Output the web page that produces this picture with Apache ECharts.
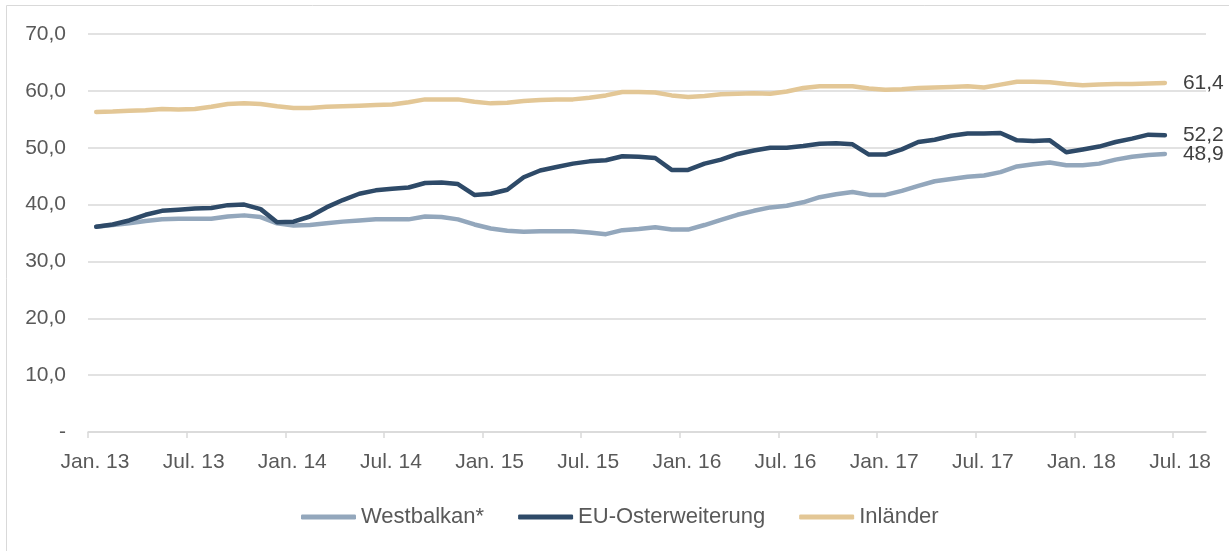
<!DOCTYPE html>
<html>
<head>
<meta charset="utf-8">
<script src="https://cdn.jsdelivr.net/npm/echarts@6/dist/echarts.min.js"></script>
<style>
    html, body { margin: 0; padding: 0; background: #fff; }
    #chart { width: 1229px; height: 551px; }
</style>
</head>
<body>
<div id="chart"></div>
<script>
// Monatswerte Jan. 13 bis Jun. 18
const seriesNames = ["Westbalkan*", "EU-Osterweiterung", "Inländer"];

const westbalkan = [
    36.1, 36.4, 36.7, 37.1, 37.4, 37.5, 37.5, 37.5, 37.9, 38.1, 37.8, 36.7,
    36.3, 36.4, 36.7, 37.0, 37.2, 37.4, 37.4, 37.4, 37.9, 37.8, 37.4, 36.5,
    35.8, 35.4, 35.2, 35.3, 35.3, 35.3, 35.1, 34.8, 35.5, 35.7, 36.0, 35.6,
    35.6, 36.4, 37.3, 38.2, 38.9, 39.5, 39.8, 40.4, 41.3, 41.8, 42.2, 41.7,
    41.7, 42.4, 43.3, 44.1, 44.5, 44.9, 45.1, 45.7, 46.7, 47.1, 47.4, 46.9,
    46.9, 47.2, 47.9, 48.4, 48.7, 48.9
];

const euOst = [
    36.1, 36.5, 37.2, 38.2, 38.9, 39.1, 39.3, 39.4, 39.9, 40.0, 39.2, 36.9,
    37.0, 37.9, 39.5, 40.8, 41.9, 42.5, 42.8, 43.0, 43.8, 43.9, 43.6, 41.7,
    41.9, 42.6, 44.8, 46.0, 46.6, 47.2, 47.6, 47.8, 48.5, 48.4, 48.2, 46.1,
    46.1, 47.2, 47.9, 48.9, 49.5, 50.0, 50.0, 50.3, 50.7, 50.8, 50.6, 48.8,
    48.8, 49.7, 51.0, 51.4, 52.1, 52.5, 52.5, 52.6, 51.3, 51.2, 51.3, 49.2,
    49.7, 50.2, 51.0, 51.6, 52.3, 52.2
];

const inlaender = [
    56.3, 56.35, 56.5, 56.6, 56.8, 56.7, 56.8, 57.2, 57.7, 57.8, 57.7, 57.3,
    57.0, 57.0, 57.2, 57.3, 57.4, 57.5, 57.6, 58.0, 58.5, 58.5, 58.5, 58.1,
    57.8, 57.9, 58.2, 58.4, 58.5, 58.5, 58.8, 59.2, 59.8, 59.8, 59.7, 59.2,
    58.9, 59.1, 59.4, 59.5, 59.6, 59.5, 59.9, 60.5, 60.8, 60.8, 60.8, 60.4,
    60.2, 60.3, 60.5, 60.6, 60.7, 60.8, 60.6, 61.1, 61.6, 61.6, 61.5, 61.2,
    61.0, 61.1, 61.2, 61.2, 61.3, 61.4
];

const xTickLabels = [
    "Jan. 13", "Jul. 13", "Jan. 14", "Jul. 14", "Jan. 15", "Jul. 15",
    "Jan. 16", "Jul. 16", "Jan. 17", "Jul. 17", "Jan. 18", "Jul. 18"
];

const colors = ["#93a7bc", "#2e4a68", "#e3c796"];
const textColor = "#595959";
const fontFamily = "Liberation Sans, Arial, sans-serif";

const fmt = (v) => v.toFixed(1).replace(".", ",");

// x = Monate seit Jan. 13, Werte jeweils Monatsmitte
const toPoints = (arr) => arr.map((v, i) => [i + 0.5, v]);
const tickValues = xTickLabels.map((_, i) => i * 6);

const chart = echarts.init(document.getElementById("chart"), null, { renderer: "canvas" });

const makeSeries = (name, data, color) => ({
    name: name,
    type: "line",
    data: toPoints(data),
    symbol: "none",
    lineStyle: { color: color, width: 4.5, cap: "round", join: "round" },
    itemStyle: { color: color },
    endLabel: {
        show: true,
        distance: 18,
        color: "#404040",
        fontSize: 21,
        fontFamily: fontFamily,
        formatter: (p) => fmt(p.value[1]),
    },
    emphasis: { disabled: true },
    animation: false,
});

chart.setOption({
    animation: false,
    textStyle: { fontFamily: fontFamily },
    graphic: [
        {
            type: "rect",
            shape: { x: 6.5, y: 5.5, width: 1240, height: 560 },
            style: { fill: "none", stroke: "#d9d9d9", lineWidth: 1 },
            silent: true,
        },
    ],
    grid: { left: 88, right: 23, top: 34, bottom: 119, containLabel: false },
    legend: {
        data: seriesNames,
        left: 296,
        top: 501,
        icon: "roundRect",
        itemWidth: 55,
        itemHeight: 5,
        itemGap: 34,
        textStyle: { color: textColor, fontSize: 22, fontFamily: fontFamily },
    },
    xAxis: {
        type: "value",
        min: 0,
        max: 68,
        interval: 6,
        axisLine: { show: true, lineStyle: { color: "#d9d9d9", width: 1.5 } },
        axisTick: {
            show: true,
            length: 6,
            customValues: tickValues,
            lineStyle: { color: "#d9d9d9", width: 1.5 },
        },
        splitLine: { show: false },
        axisLabel: {
            customValues: tickValues,
            color: textColor,
            fontSize: 21,
            margin: 20,
            padding: [0, 0, 0, 14],
            formatter: (v) => xTickLabels[Math.round(v / 6)] || "",
        },
    },
    yAxis: {
        type: "value",
        min: 0,
        max: 70,
        interval: 10,
        axisLine: { show: false },
        axisTick: { show: false },
        splitLine: { lineStyle: { color: "#d9d9d9", width: 1.5 } },
        axisLabel: {
            color: textColor,
            fontSize: 21,
            margin: 22,
            formatter: (v) => (v === 0 ? "-" : fmt(v)),
        },
    },
    series: [
        makeSeries(seriesNames[0], westbalkan, colors[0]),
        makeSeries(seriesNames[1], euOst, colors[1]),
        makeSeries(seriesNames[2], inlaender, colors[2]),
    ],
});
</script>
</body>
</html>
